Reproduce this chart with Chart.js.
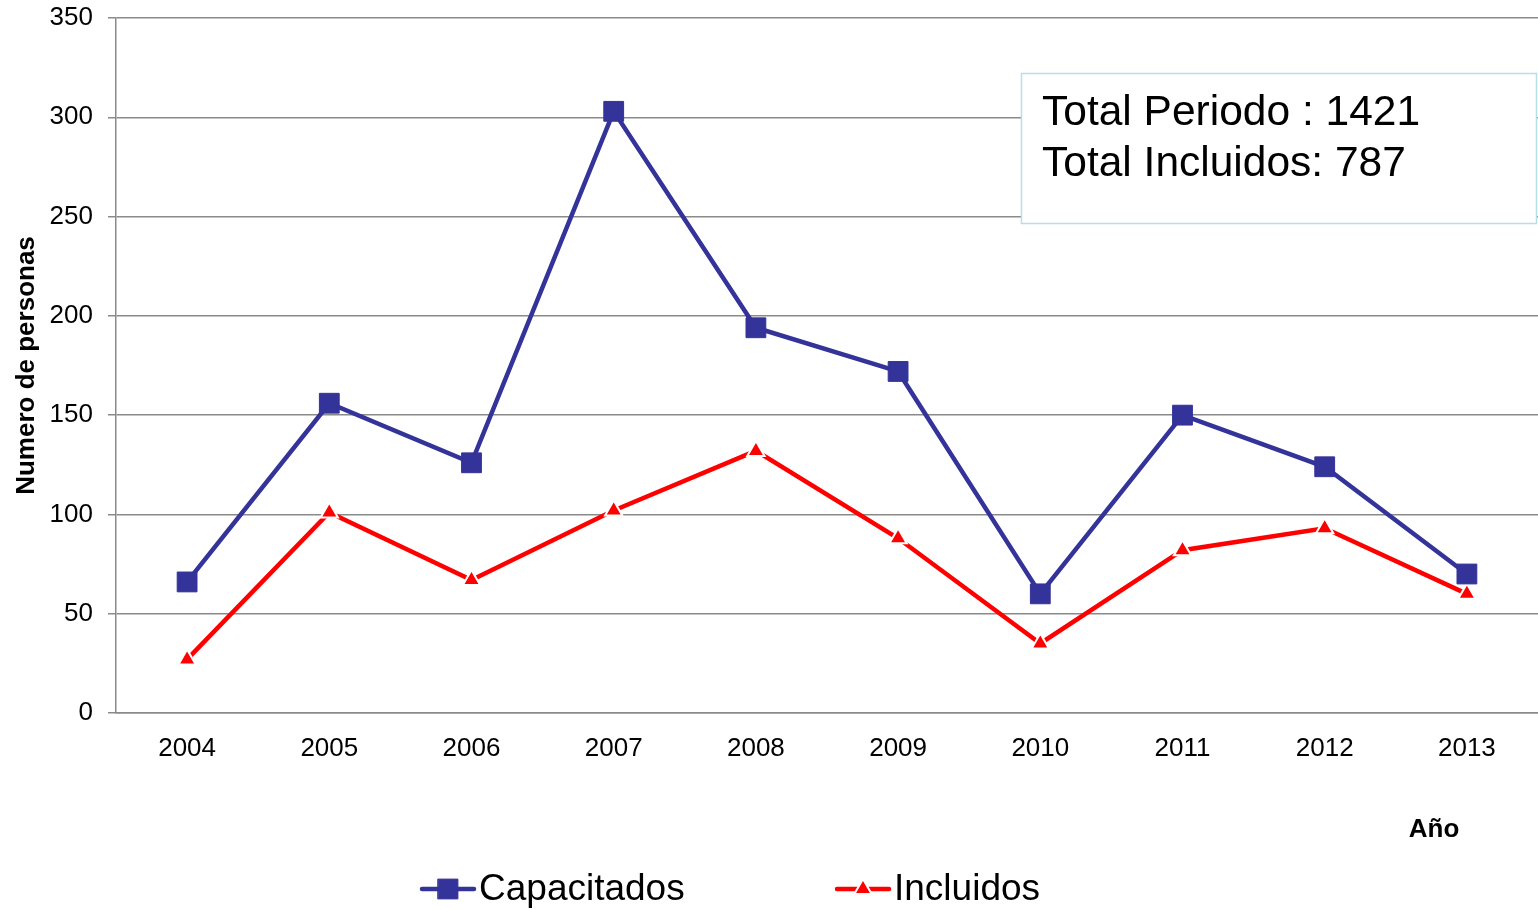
<!doctype html>
<html lang="es">
<head>
  <meta charset="UTF-8">
  <title>Capacitados e Incluidos</title>
  <script src="https://cdn.jsdelivr.net/npm/chart.js"></script>
  <style>
    html, body { margin: 0; padding: 0; background: #fff; }
    #chart_01 { display: block; }
  </style>
</head>
<body>
  <canvas id="chart_01" width="1538" height="910"></canvas>
  <script>
    const years = ['2004', '2005', '2006', '2007', '2008', '2009', '2010', '2011', '2012', '2013']
    const capacitados = [66, 156, 126, 303, 194, 172, 60, 150, 124, 70]
    const incluidos = [27, 101, 67, 102, 132, 88, 35, 82, 93, 60]
    const noteLines = ['Total Periodo : 1421', 'Total Incluidos: 787']

    const FONT = '"Liberation Sans", Arial, sans-serif'
    const blue = '#333399'
    const red = '#ff0000'
    const gridColor = '#8a8a8a'

    // text box, axis caption and line legend, drawn on top of the chart
    const extras = {
      id: 'extras',
      afterDraw(chart) {
        const {ctx} = chart
        ctx.save()

        // note box
        ctx.fillStyle = '#fff'
        ctx.fillRect(1021, 73, 516, 151)
        ctx.strokeStyle = '#b7dfe6'
        ctx.lineWidth = 1.5
        ctx.strokeRect(1021.5, 73.5, 515, 150)
        ctx.fillStyle = '#000'
        ctx.font = `42.5px ${FONT}`
        ctx.textBaseline = 'alphabetic'
        ctx.textAlign = 'left'
        noteLines.forEach((t, i) => ctx.fillText(t, 1042, 125 + i * 51))

        // "Año"
        ctx.font = `bold 26px ${FONT}`
        ctx.textAlign = 'center'
        ctx.textBaseline = 'middle'
        ctx.fillText('Año', 1434, 830)

        // legend
        const items = [
          {x: 420, ds: chart.data.datasets[0]},
          {x: 835, ds: chart.data.datasets[1]}
        ]
        const ly = 889
        items.forEach(({x, ds}) => {
          ctx.strokeStyle = ds.borderColor
          ctx.lineWidth = 4.5
          ctx.lineCap = 'round'
          ctx.beginPath()
          ctx.moveTo(x + 2, ly)
          ctx.lineTo(x + 54, ly)
          ctx.stroke()
          ctx.fillStyle = ds.pointBackgroundColor
          ctx.strokeStyle = ds.pointBorderColor
          ctx.lineWidth = ds.pointBorderWidth
          Chart.helpers.drawPoint(ctx, {
            pointStyle: ds.pointStyle,
            radius: ds.pointRadius,
            borderWidth: ds.pointBorderWidth
          }, x + 28, ly)
          ctx.fillStyle = '#000'
          ctx.font = `37px ${FONT}`
          ctx.textAlign = 'left'
          ctx.textBaseline = 'middle'
          ctx.fillText(ds.label, x + 59, ly + 1)
        })
        ctx.restore()
      }
    }

    const config = {
      type: 'line',
      data: {
        labels: years,
        datasets: [{
          label: 'Capacitados',
          data: capacitados,
          borderColor: blue,
          borderWidth: 4.5,
          pointStyle: 'rect',
          pointRadius: 14,
          pointBackgroundColor: blue,
          pointBorderColor: blue,
          pointBorderWidth: 1,
          tension: 0
        }, {
          label: 'Incluidos',
          data: incluidos,
          borderColor: red,
          borderWidth: 4.5,
          pointStyle: 'triangle',
          pointRadius: 10,
          pointBackgroundColor: red,
          pointBorderColor: '#fff',
          pointBorderWidth: 2,
          tension: 0
        }]
      },
      options: {
        responsive: false,
        animation: false,
        layout: {autoPadding: false, padding: {top: 18, right: 0, bottom: 0, left: 0}},
        plugins: {
          legend: {display: false},
          tooltip: {enabled: false}
        },
        scales: {
          x: {
            offset: true,
            grid: {display: false, drawTicks: false},
            border: {display: true, color: gridColor, width: 1.5},
            ticks: {color: '#000', font: {family: FONT, size: 26}, padding: 20, maxRotation: 0},
            afterFit: s => {
              s.height = 197
              s.paddingLeft = 0
              s.paddingRight = 0
            }
          },
          y: {
            min: 0,
            max: 350,
            ticks: {stepSize: 50, color: '#000', font: {family: FONT, size: 26}, padding: 15},
            grid: {color: gridColor, lineWidth: 1.5, tickLength: 8},
            border: {display: true, color: gridColor, width: 1.5},
            title: {
              display: true,
              text: 'Numero de personas',
              color: '#000',
              font: {family: FONT, size: 26, weight: 'bold'},
              padding: {top: 11, bottom: 0}
            },
            afterFit: s => {
              s.width = 116
              s.paddingTop = 0
              s.paddingBottom = 0
            }
          }
        }
      },
      plugins: [extras]
    }

    const myChart = new Chart(document.getElementById('chart_01'), config)
  </script>
</body>
</html>
